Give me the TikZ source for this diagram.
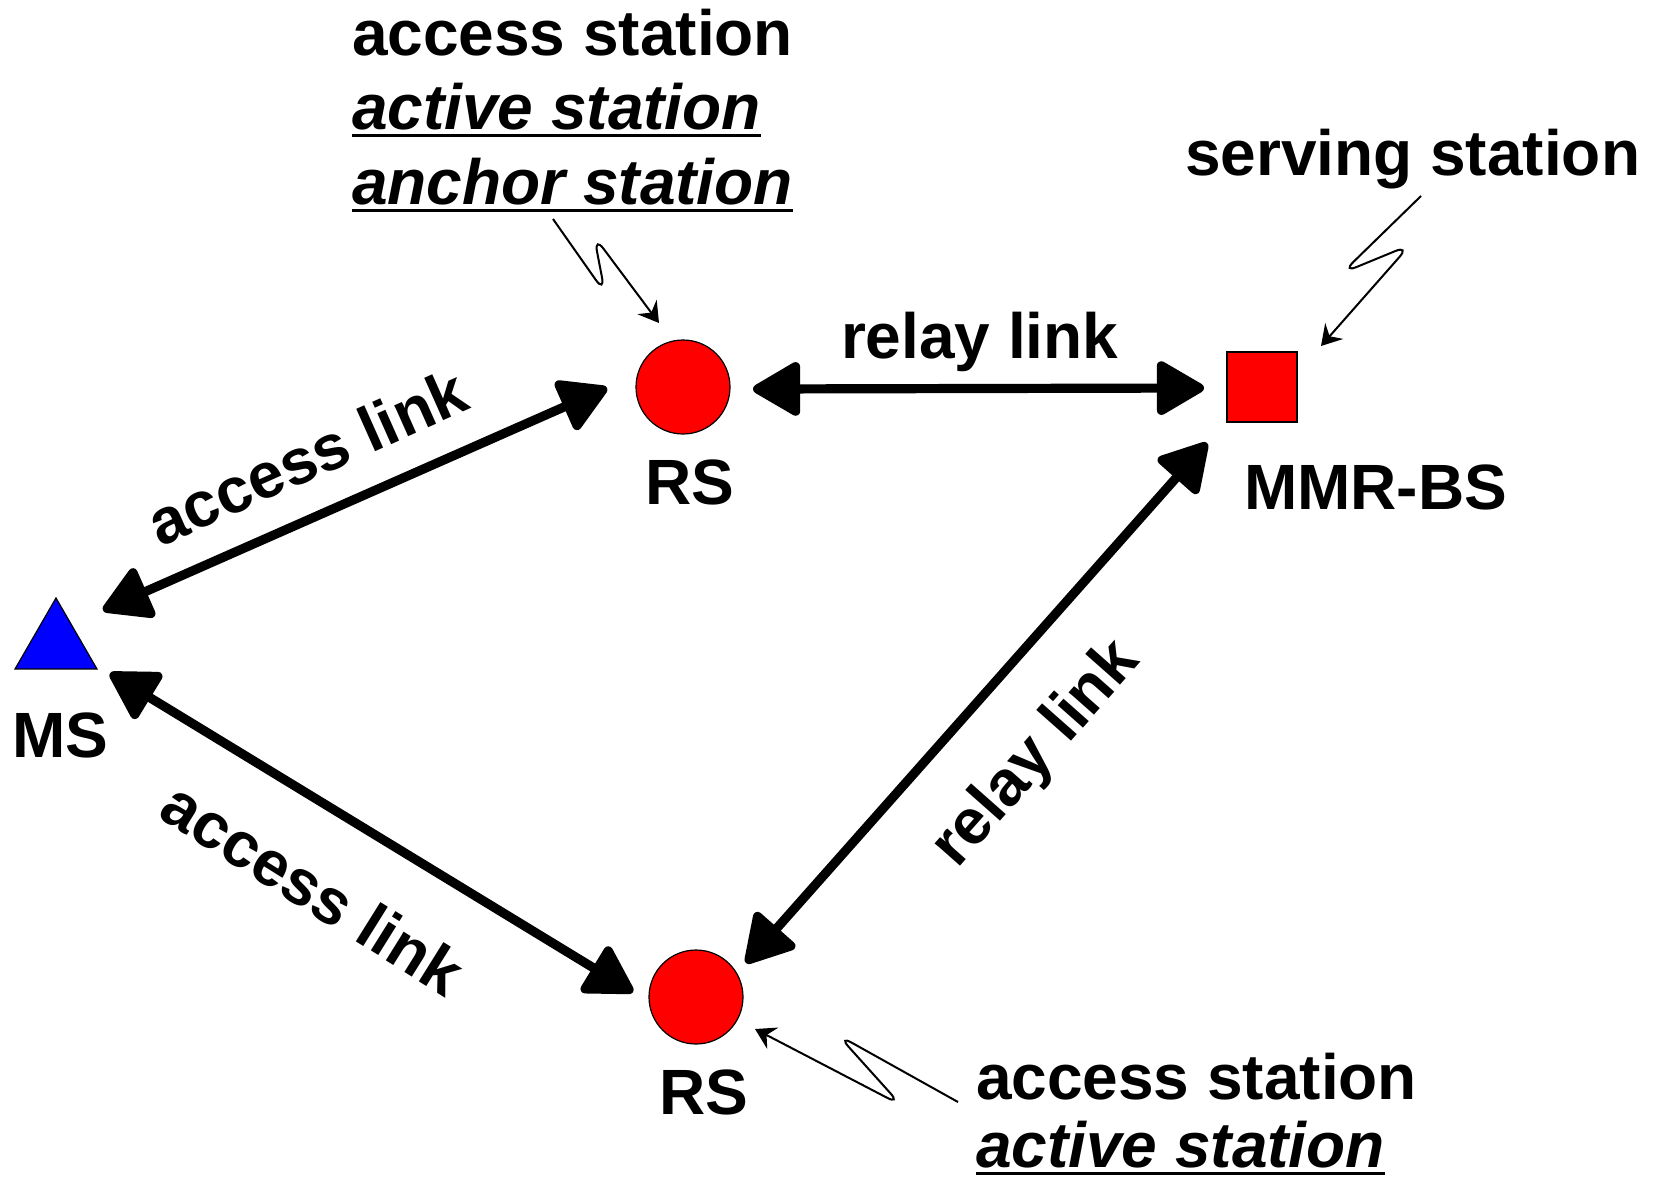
\documentclass[tikz,border=0pt]{standalone}
\usepackage{fontspec}
\setmainfont{Liberation Sans}
\usetikzlibrary{arrows.meta,calc,shapes.geometric}
\definecolor{stred}{RGB}{255,0,0}
\definecolor{stblue}{RGB}{0,0,255}
\begin{document}
\begin{tikzpicture}[x=0.5pt,y=-0.5pt,
  lbl/.style={font=\fontsize{32}{37}\selectfont\bfseries, inner sep=0pt, outer sep=0pt},
  ilbl/.style={font=\fontsize{32}{37}\selectfont\bfseries\itshape, inner sep=0pt, outer sep=0pt},
  uline/.style={line width=1.6pt},
  relay/.style={circle, draw=black, line width=0.6pt, fill=stred, minimum size=47pt, inner sep=0pt},
  basest/.style={rectangle, draw=black, line width=0.6pt, fill=stred, minimum size=35pt, inner sep=0pt},
  mobile/.style={regular polygon, regular polygon sides=3, draw=black, line width=0.6pt, fill=stblue, minimum size=47.3pt, inner sep=0pt},
  bighead/.tip={Triangle[length=26pt,width=29pt,round]},
  bigarrow/.style={line width=4.6pt, line join=round, bighead-bighead},
  squig/.style={line width=1pt, rounded corners=8pt, -{Stealth[length=10pt,width=12pt,inset=3.5pt]}}
]
\useasboundingbox (0,0) rectangle (1663,1179);

% stations
\node[relay] (rs1) at (683,387) {};
\node[relay] (rs2) at (696,997) {};
\node[basest] (bs) at (1262,387) {};
\node[mobile] (ms) at (56,645.3) {};

% station names
\node[lbl, anchor=base] (rs1lbl) at (690,504) {RS};
\node[lbl, anchor=base] (rs2lbl) at (704,1114) {RS};
\node[lbl, anchor=base west] (mslbl) at (12,757) {MS};
\node[lbl, anchor=base west] (bslbl) at (1244,509) {MMR-BS};

% links
\draw[bigarrow] ($(ms)+(47,-35)$) -- ($(rs1)+(-76,1)$);
\draw[bigarrow] ($(ms)+(54,28)$) -- ($(rs2)+(-63,-5)$);
\draw[bigarrow] ($(rs1)+(70,2)$) -- ($(bs)+(-58,1)$);
\draw[bigarrow] ($(rs2)+(50,-34)$) -- ($(bs)+(-55,56)$);

% link labels
\node[lbl, anchor=base west] (rl1) at (841,358) {relay link};
\node[lbl, rotate=24] (al1) at (307,457) {access link};
\node[lbl, rotate=-32] (al2) at (313,888) {access link};
\node[lbl, rotate=48.5] (rl2) at (1037,755) {relay link};

% role annotations
\node[lbl, anchor=base west] (top1) at (352,55) {access station};
\node[ilbl, anchor=base west] (top2) at (352,129) {active station};
\node[ilbl, anchor=base west] (top3) at (352,204) {anchor station};
\draw[uline] ([yshift=-3.4pt]top2.base west) -- ([yshift=-3.4pt]top2.base east);
\draw[uline] ([yshift=-3.4pt]top3.base west) -- ([yshift=-3.4pt]top3.base east);

\node[lbl, anchor=base west] (serv) at (1185,175) {serving station};

\node[lbl, anchor=base west] (bot1) at (976,1099) {access station};
\node[ilbl, anchor=base west] (bot2) at (976,1167) {active station};
\draw[uline] ([yshift=-3.4pt]bot2.base west) -- ([yshift=-3.4pt]bot2.base east);

% pointers from annotations to stations
\coordinate (sq1) at (553,219);
\draw[squig] (sq1) -- (605,293) -- (594,236) -- ($(rs1)+(-24,-64)$);
\coordinate (sq2) at (1421,196);
\draw[squig] (sq2) -- (1342,273) -- (1410,245) -- ($(bs)+(59,-41)$);
\coordinate (sq3) at (958,1102);
\draw[squig] (sq3) -- (838,1035) -- (901,1105) -- ($(rs2)+(59,32)$);
\end{tikzpicture}
\end{document}
